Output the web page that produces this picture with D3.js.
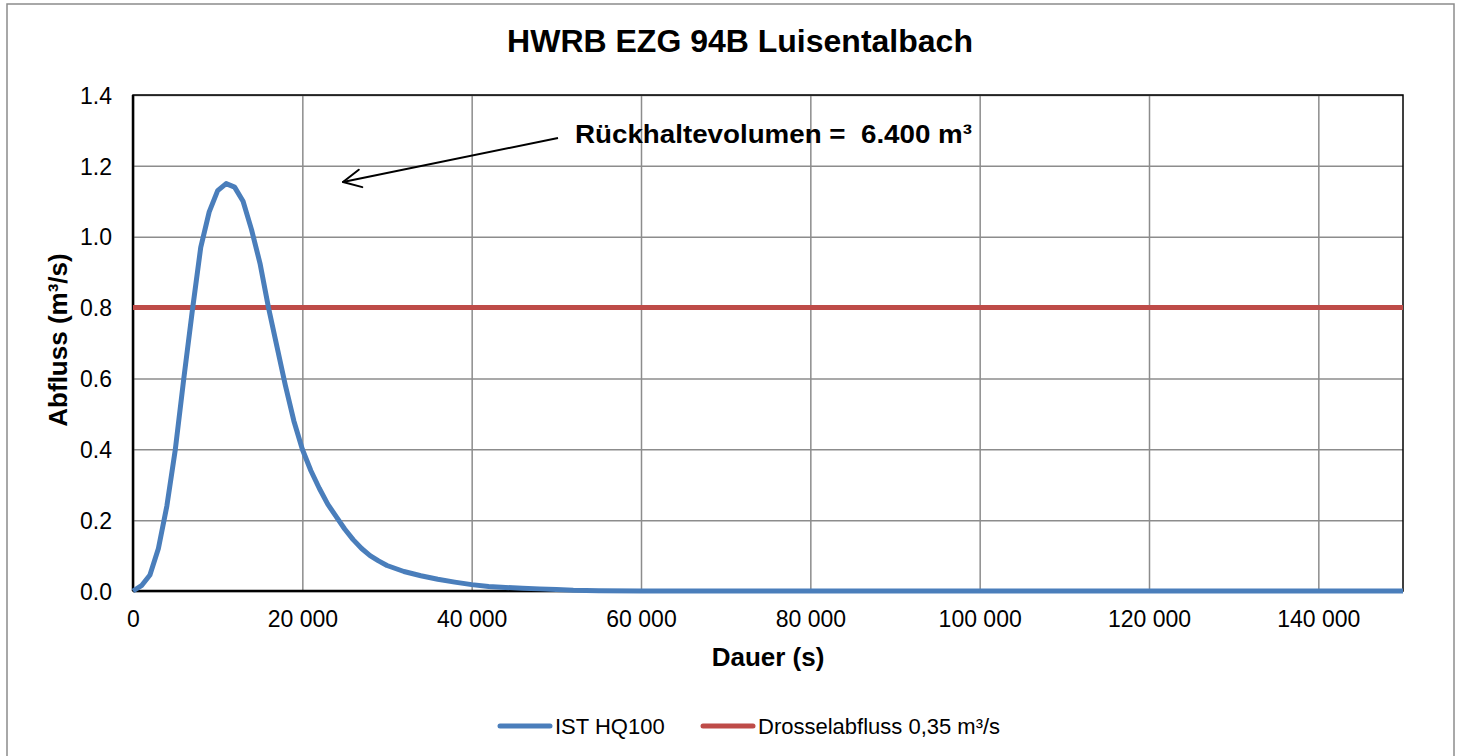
<!DOCTYPE html>
<html><head><meta charset="utf-8">
<script src="https://cdn.jsdelivr.net/npm/d3@7"></script>
<style>body{margin:0;background:#fff}svg{display:block}</style>
</head><body><svg id="c" width="1459" height="756"></svg>
<script>
const title = "HWRB EZG 94B Luisentalbach";
const xLabel = "Dauer (s)";
const yLabel = "Abfluss (m³/s)";
const annotation = "Rückhaltevolumen =\u00a0 6.400 m³";
const seriesNames = ["IST HQ100", "Drosselabfluss 0,35 m³/s"];
const timeS = [0,1000,2000,3000,4000,5000,6000,7000,8000,9000,10000,11000,12000,13000,14000,15000,16000,17000,18000,19000,20000,21000,22000,23000,24000,25000,26000,27000,28000,29000,30000,32000,34000,36000,38000,40000,42000,44000,46000,48000,50000,52000,55000,60000,80000,100000,120000,150000];
const istHQ100 = [0,0.015,0.045,0.12,0.24,0.40,0.60,0.79,0.97,1.07,1.13,1.15,1.14,1.10,1.02,0.925,0.80,0.69,0.58,0.48,0.40,0.34,0.29,0.245,0.21,0.175,0.145,0.12,0.10,0.085,0.072,0.055,0.043,0.033,0.025,0.018,0.013,0.010,0.008,0.006,0.004,0.002,0.001,0,0,0,0,0];
const drosselX = [0,150000];
const drosselY = [0.8,0.8];
const xTicks = [0,20000,40000,60000,80000,100000,120000,140000];
const yTicks = [0,0.2,0.4,0.6,0.8,1.0,1.2,1.4];

const svg = d3.select("#c");
const F = "'Liberation Sans', Arial, sans-serif";
const L = 133, R = 1403, T = 95, B = 591;
const x = d3.scaleLinear().domain([0,150000]).range([L,R]);
const y = d3.scaleLinear().domain([0,1.4]).range([B,T]);

// outer border
svg.append("rect").attr("x",7).attr("y",4).attr("width",1447).attr("height",760)
  .attr("fill","none").attr("stroke","#8c8c8c").attr("stroke-width",1.5);

// grid
const fmtX = d => d3.format(",")(d).replace(/,/g," ");
svg.append("g").attr("transform",`translate(0,${B})`)
  .call(d3.axisBottom(x).tickValues(xTicks).tickSize(-(B-T)).tickFormat(""))
  .call(g=>g.select(".domain").remove())
  .call(g=>g.selectAll("line").attr("stroke","#8c8c8c").attr("stroke-width",1.5));
svg.append("g").attr("transform",`translate(${L},0)`)
  .call(d3.axisLeft(y).tickValues(yTicks).tickSize(-(R-L)).tickFormat(""))
  .call(g=>g.select(".domain").remove())
  .call(g=>g.selectAll("line").attr("stroke","#8c8c8c").attr("stroke-width",1.5));

// tick labels
svg.append("g").attr("transform",`translate(0,${B})`)
  .call(d3.axisBottom(x).tickValues(xTicks).tickSize(0).tickFormat(fmtX))
  .call(g=>g.select(".domain").remove())
  .call(g=>g.selectAll("text").attr("y",36).attr("dy",0).attr("font-family",F).attr("font-size",23).attr("fill","#000"));
svg.append("g").attr("transform",`translate(${L},0)`)
  .call(d3.axisLeft(y).tickValues(yTicks).tickSize(0).tickPadding(21).tickFormat(d3.format(".1f")))
  .call(g=>g.select(".domain").remove())
  .call(g=>g.selectAll("text").attr("dy","0.36em").attr("font-family",F).attr("font-size",23).attr("fill","#000"));

// plot frame
svg.append("rect").attr("x",L).attr("y",T).attr("width",R-L).attr("height",B-T)
  .attr("fill","none").attr("stroke","#000").attr("stroke-width",1.5);
svg.append("line").attr("x1",L).attr("x2",L).attr("y1",T).attr("y2",B).attr("stroke","#000").attr("stroke-width",2.5);
svg.append("line").attr("x1",L).attr("x2",R).attr("y1",B).attr("y2",B).attr("stroke","#000").attr("stroke-width",2.5);

// series
const line = d3.line().x(d=>x(d[0])).y(d=>y(d[1]));
svg.append("path").datum(drosselX.map((d,i)=>[d,drosselY[i]])).attr("d",line)
  .attr("fill","none").attr("stroke","#be4b48").attr("stroke-width",5);
svg.append("path").datum(timeS.map((d,i)=>[d,istHQ100[i]])).attr("d",line)
  .attr("fill","none").attr("stroke","#4a7ebb").attr("stroke-width",5).attr("stroke-linejoin","round");

// title & axis labels
svg.append("text").attr("x",740).attr("y",52).attr("text-anchor","middle")
  .attr("font-family",F).attr("font-weight","bold").attr("font-size",32).text(title);
svg.append("text").attr("x",768).attr("y",666).attr("text-anchor","middle")
  .attr("font-family",F).attr("font-weight","bold").attr("font-size",26).text(xLabel);
svg.append("text").attr("transform",`translate(67,340) rotate(-90)`).attr("text-anchor","middle")
  .attr("font-family",F).attr("font-weight","bold").attr("font-size",26).text(yLabel);

// annotation
svg.append("text").attr("x",575).attr("y",143).attr("font-family",F).attr("font-weight","bold")
  .attr("font-size",26).attr("textLength",397).attr("lengthAdjust","spacingAndGlyphs").text(annotation);
const ax1=558, ay1=138, ax2=343, ay2=182;
svg.append("line").attr("x1",ax1).attr("y1",ay1).attr("x2",ax2).attr("y2",ay2).attr("stroke","#000").attr("stroke-width",2);
const ang = Math.atan2(ay1-ay2, ax1-ax2);
[0.46,-0.46].forEach(a=>{
  svg.append("line").attr("x1",ax2).attr("y1",ay2)
    .attr("x2",ax2+20*Math.cos(ang+a)).attr("y2",ay2+20*Math.sin(ang+a))
    .attr("stroke","#000").attr("stroke-width",2).attr("stroke-linecap","round");
});

// legend
const leg = [{x:498,c:"#4a7ebb"},{x:701,c:"#be4b48"}];
leg.forEach((l,i)=>{
  svg.append("line").attr("x1",l.x+2).attr("x2",l.x+52).attr("y1",726).attr("y2",726)
    .attr("stroke",l.c).attr("stroke-width",5).attr("stroke-linecap","round");
  svg.append("text").attr("x",l.x+57).attr("y",734).attr("font-family",F).attr("font-size",22)
    .text(seriesNames[i]);
});
</script></body></html>
